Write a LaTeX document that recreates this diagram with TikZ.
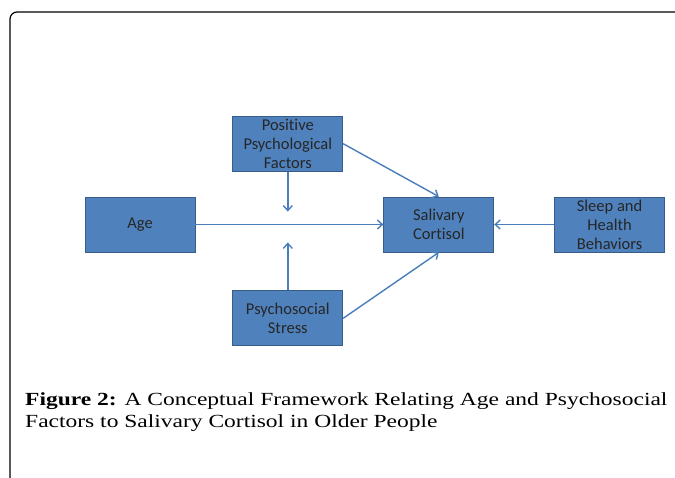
\documentclass[tikz,border=0pt]{standalone}
\usepackage{fontspec}
\setmainfont{Liberation Serif}
\newfontfamily\boxfont[Ligatures=NoCommon]{Carlito}
\newfontfamily\captionfont[FakeStretch=1.27]{Liberation Serif}
\usetikzlibrary{arrows.meta,positioning}
\definecolor{boxblue}{HTML}{4F81BD}
\definecolor{boxedge}{HTML}{385D8A}
\definecolor{linkblue}{HTML}{4A7EBB}

\begin{document}
\begin{tikzpicture}[x=1pt,y=-1pt]
    \tikzset{
      factor/.style={draw=boxedge,fill=boxblue,line width=0.8pt,minimum width=110pt,minimum height=55pt,inner sep=0pt,align=center,font=\boxfont\fontsize{16.5}{19}\selectfont,text=black!85},
      link/.style={-{Straight Barb[length=5pt,width=9pt]},draw=linkblue,line width=1.4pt},
      caption/.style={align=left,inner sep=0pt,font=\captionfont\fontsize{18.5}{22}\selectfont}
    }
    \useasboundingbox (0,0) rectangle (675,478);
    \draw[line width=1.2pt,rounded corners=7pt] (10,490) -- (10,12) -- (690,12);
    \node[factor] (age) at (140,224.5) {Age};
    \node[factor,right=188pt of age] (cortisol) {Salivary\\Cortisol};
    \node[factor,right=60pt of cortisol] (sleep) {Sleep and\\Health\\Behaviors};
    \node[factor,above right=25pt and 37pt of age] (positive) {Positive\\Psychological\\Factors};
    \node[factor,below right=38pt and 37pt of age] (stress) {Psychosocial\\Stress};
    \coordinate[below=40pt of positive.south] (positivetip);
    \coordinate[above=48pt of stress.north] (stresstip);
    \draw[link] (age) -- (cortisol);
    \draw[link] (positive) -- (positivetip);
    \draw[link] (stress) -- (stresstip);
    \draw[link] (positive.east) -- (cortisol.north);
    \draw[link] (stress.east) -- (cortisol.south);
    \draw[link] (sleep) -- (cortisol);
    \node[caption,anchor=base west] (caption) at (25,428) {\textbf{Figure 2:} A Conceptual Framework Relating Age and Psychosocial\\Factors to Salivary Cortisol in Older People};
  \end{tikzpicture}
\end{document}
